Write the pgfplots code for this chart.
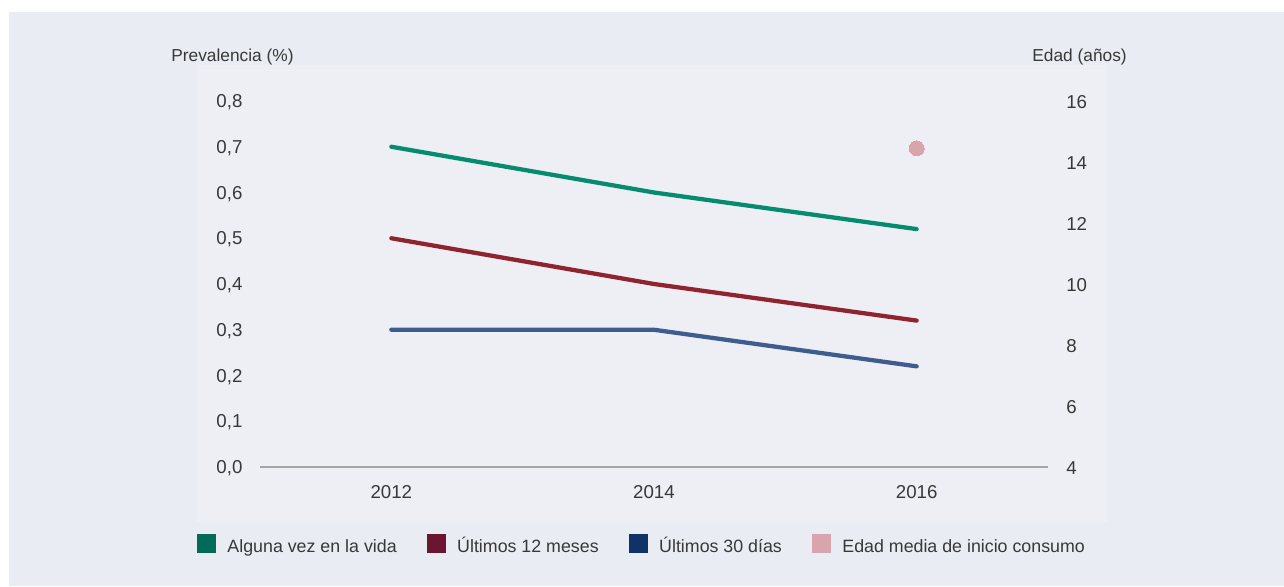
\documentclass[border=0pt]{standalone}
\usepackage{pgfplots}
\pgfplotsset{compat=1.18}
\usepackage{fontspec}
\setmainfont{Liberation Sans}
\definecolor{outerbg}{HTML}{E9ECF3}
\definecolor{innerbg}{HTML}{EEEFF5}
\definecolor{textgray}{HTML}{383838}
\definecolor{basegray}{HTML}{A5A5A5}
\definecolor{greenline}{HTML}{058C6E}
\definecolor{redline}{HTML}{8F2430}
\definecolor{blueline}{HTML}{3F5C8E}
\definecolor{leggreen}{HTML}{006B57}
\definecolor{legred}{HTML}{6A1631}
\definecolor{legblue}{HTML}{0E3467}
\definecolor{pinkc}{HTML}{D8A5AC}
\begin{document}
\begin{tikzpicture}[font=\fontsize{13}{15.6}\selectfont]
\path[use as bounding box] (0,0) rectangle (963pt,439.5pt);
\fill[white] (0,0) rectangle (963pt,439.5pt);
\fill[outerbg] (6.75pt,0) rectangle (963pt,430.5pt);
\fill[innerbg] (147.75pt,48pt) rectangle (830.25pt,390.75pt);
\begin{axis}[
  at={(195pt,89.25pt)}, anchor=south west,
  scale only axis, width=591pt, height=274.5pt,
  xmin=2011, xmax=2017, ymin=0, ymax=0.8,
  clip=false,
  axis x line*=bottom, axis y line*=left,
  x axis line style={draw=basegray, line width=2pt, -},
  y axis line style={draw=none},
  xtick={2012,2014,2016},
  ytick={0,0.1,0.2,0.3,0.4,0.5,0.6,0.7,0.8},
  major tick length=0pt,
  tick label style={font=\fontsize{14}{16}\selectfont},
  xticklabel style={anchor=north, inner sep=0pt, yshift=-13.5pt, text=textgray, /pgf/number format/.cd, 1000 sep={}, assume math mode=true},
  yticklabel style={anchor=east, inner sep=0pt, xshift=-13pt, yshift=-1pt, text=textgray, /pgf/number format/.cd, fixed, fixed zerofill, precision=1, use comma, assume math mode=true},
  every axis y label/.style={at={(axis description cs:-0.1129,1.109)}, anchor=base west, inner sep=0pt, text=textgray},
  ylabel={Prevalencia (\%)},
  legend style={at={(axis description cs:-0.0800,-0.1831)}, anchor=north west, draw=none, fill=none, inner sep=0pt, outer sep=0pt, text=textgray, font=\fontsize{13.35}{16}\selectfont, nodes={inner sep=0pt}, cells={anchor=base west}, /tikz/every odd column/.append style={column sep=9pt}, /tikz/every even column/.append style={column sep=22.5pt}},
  legend columns=4,
]
\addplot[greenline, line width=3.2pt, line cap=round, line join=round, forget plot] coordinates {(2012,0.70) (2014,0.60) (2016,0.52)};
\addplot[redline, line width=3.2pt, line cap=round, line join=round, forget plot] coordinates {(2012,0.50) (2014,0.40) (2016,0.32)};
\addplot[blueline, line width=3.2pt, line cap=round, line join=round, forget plot] coordinates {(2012,0.30) (2014,0.30) (2016,0.22)};
\addlegendimage{legend image code/.code={\fill[leggreen] (0pt,0pt) rectangle (13.5pt,13.5pt);}}
\addlegendentry{Alguna vez en la vida}
\addlegendimage{legend image code/.code={\fill[legred] (0pt,0pt) rectangle (13.5pt,13.5pt);}}
\addlegendentry{Últimos 12 meses}
\addlegendimage{legend image code/.code={\fill[legblue] (0pt,0pt) rectangle (13.5pt,13.5pt);}}
\addlegendentry{Últimos 30 días}
\addlegendimage{legend image code/.code={\fill[pinkc] (0pt,0pt) rectangle (13.5pt,13.5pt);}}
\addlegendentry{Edad media de inicio consumo}
\end{axis}
\begin{axis}[
  at={(195pt,89.25pt)}, anchor=south west,
  scale only axis, width=591pt, height=274.5pt,
  xmin=2011, xmax=2017, ymin=4, ymax=16,
  clip=false,
  axis x line=none, axis y line*=right,
  y axis line style={draw=none},
  ytick={4,6,8,10,12,14,16},
  major tick length=0pt,
  tick label style={font=\fontsize{14}{16}\selectfont},
  yticklabel style={anchor=west, inner sep=0pt, xshift=13.5pt, yshift=-1pt, text=textgray, /pgf/number format/assume math mode=true},
  every axis y label/.style={at={(axis description cs:1.1003,1.109)}, anchor=base east, inner sep=0pt, text=textgray},
  ylabel={Edad (años)},
]
\addplot[pinkc, only marks, mark=*, mark size=5.6pt, mark options={draw=pinkc, fill=pinkc, line width=0pt}] coordinates {(2016,14.45)};
\end{axis}
\end{tikzpicture}
\end{document}
